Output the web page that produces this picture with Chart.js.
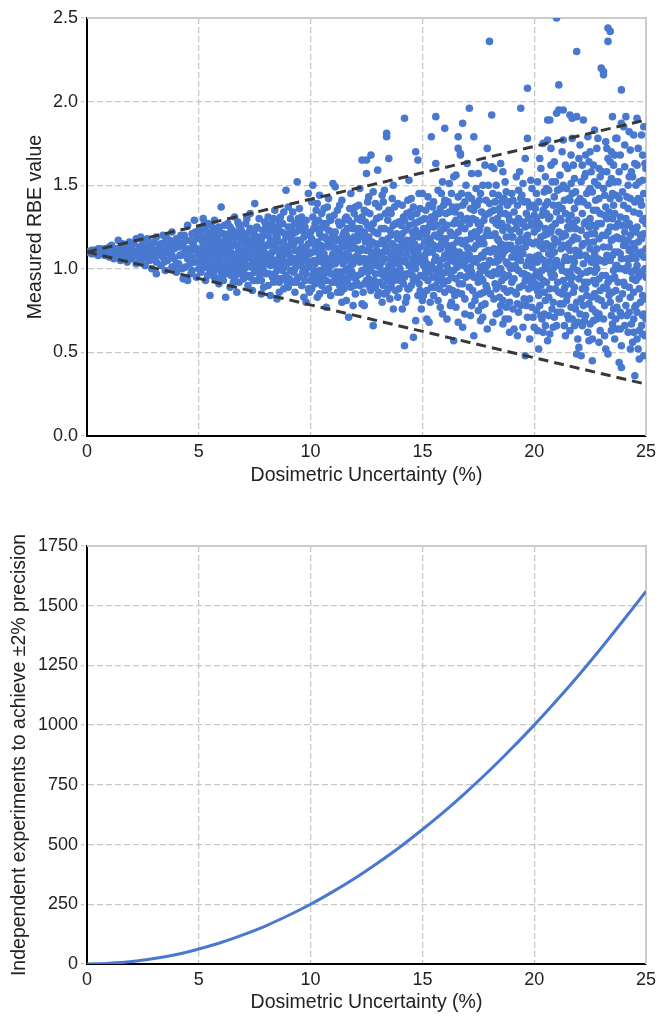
<!DOCTYPE html>
<html>
<head>
<meta charset="utf-8">
<script src="https://cdn.jsdelivr.net/npm/chart.js@4.4.0/dist/chart.umd.min.js"></script>
<style>
  html, body { margin: 0; padding: 0; background: #fff; }
  #wrap { position: relative; width: 661px; height: 1016px; }
  #topChart { position: absolute; left: 0; top: 0; }
  #bottomChart { position: absolute; left: 0; top: 490px; }
</style>
</head>
<body>
<div id="wrap">
  <canvas id="topChart" width="661" height="490"></canvas>
  <canvas id="bottomChart" width="661" height="526"></canvas>
</div>
<script>
// Measured RBE vs dosimetric uncertainty in bands of x
var rbe0to5 = [
  [0.0,1.10],[0.1,1.10],[0.2,1.11],[0.3,1.09],[0.3,1.11],[0.4,1.10],[0.5,1.12],[0.5,1.08],[0.6,1.10],[0.7,1.11],
  [0.7,1.09],[0.8,1.12],[0.8,1.08],[0.9,1.10],[1.0,1.13],[1.0,1.07],[0.2,1.09],[0.6,1.12],[0.9,1.09],
  [1.1,1.10],[1.1,1.14],[1.2,1.06],[1.3,1.12],[1.3,1.08],[1.4,1.17],[1.4,1.10],[1.5,1.05],[1.5,1.13],[1.6,1.09],
  [1.6,1.15],[1.7,1.07],[1.7,1.11],[1.8,1.04],[1.8,1.13],[1.9,1.10],[1.9,1.16],[2.0,1.06],[2.0,1.12],[1.2,1.12],
  [1.5,1.09],[1.8,1.08],
  [2.1,1.09],[2.1,1.15],[2.2,1.03],[2.2,1.18],[2.3,1.11],[2.3,1.07],[2.4,1.13],[2.4,1.05],[2.5,1.10],[2.5,1.16],
  [2.6,1.02],[2.6,1.12],[2.7,1.08],[2.7,1.18],[2.8,1.14],[2.8,1.05],[2.9,1.11],[2.9,1.00],[3.0,1.16],[3.0,1.08],
  [2.2,1.10],[2.5,1.06],[2.8,1.10],[2.4,1.19],[2.9,1.14],
  [3.1,1.19],[3.1,1.04],[3.1,0.97],[3.2,1.12],[3.2,1.09],[3.3,1.15],[3.3,1.02],[3.4,1.07],[3.4,1.20],[3.5,1.11],
  [3.5,0.99],[3.6,1.14],[3.6,1.05],[3.7,1.17],[3.7,1.09],[3.8,1.22],[3.8,1.01],[3.9,1.12],[3.9,1.06],[4.0,1.18],
  [4.0,0.98],[3.3,1.10],[3.6,1.10],[3.9,1.15],[3.5,1.16],[3.8,1.08],
  [4.1,1.13],[4.1,1.03],[4.2,1.20],[4.2,1.08],[4.3,0.94],[4.3,1.15],[4.4,1.01],[4.4,1.11],[4.5,1.26],[4.5,0.93],
  [4.5,1.06],[4.6,1.17],[4.6,1.10],[4.7,0.99],[4.7,1.21],[4.8,1.29],[4.8,1.04],[4.8,1.13],[4.9,0.95],[4.9,1.18],
  [5.0,1.08],[5.0,1.23],[5.0,1.00],[4.2,1.14],[4.4,1.17],[4.6,1.03],[4.9,1.11],[4.7,1.07],[4.3,1.09],[4.1,1.16],
  [0.15,1.10],[0.35,1.10],[0.45,1.11],[0.65,1.09],[0.85,1.11],[1.05,1.10],[1.25,1.09],[1.45,1.12],[1.65,1.11],[1.85,1.11],
  [2.05,1.09],[2.35,1.13],[2.65,1.08],[2.95,1.06],[3.25,1.13],[3.45,1.04],[3.75,1.12],[3.95,1.02],[4.15,1.08],[4.35,1.20],
  [4.55,1.12],[4.75,1.15],[4.95,1.04],[4.25,1.00],[4.65,0.97],[4.85,1.22],[3.55,1.19],[2.75,1.13],[1.95,1.13],[3.15,1.08]
];
var rbe5to10 = [
  [5.1,1.12],[5.1,0.98],[5.1,1.24],[5.2,1.30],[5.2,1.06],[5.2,1.15],[5.3,0.93],[5.3,1.10],[5.3,1.19],[5.4,1.02],
  [5.4,1.27],[5.4,1.13],[5.5,0.84],[5.5,1.08],[5.5,1.17],[5.5,0.97],[5.6,1.22],[5.6,1.04],[5.6,1.11],[5.7,0.95],
  [5.7,1.29],[5.7,1.15],[5.8,1.07],[5.8,1.00],[5.8,1.20],[5.9,1.12],[5.9,0.91],[5.9,1.25],[6.0,1.37],[6.0,1.05],
  [6.0,1.16],[6.0,0.98],[5.2,1.09],[5.4,1.07],[5.6,0.99],[5.8,1.14],[5.3,1.23],[5.7,1.03],[5.9,1.08],[5.5,1.13],
  [5.1,1.05],[5.6,1.18],[5.8,0.94],[5.4,0.96],
  [5.05,1.10],[5.15,1.17],[5.25,1.01],[5.35,1.14],[5.45,1.21],[5.55,1.03],[5.65,1.09],[5.75,1.24],[5.85,1.02],[5.95,1.15],
  [5.05,1.20],[5.15,1.03],[5.25,1.12],[5.35,1.05],[5.45,1.00],[5.55,1.26],[5.65,0.97],[5.75,1.11],[5.85,1.18],[5.95,1.01],
  [5.25,1.27],[5.45,1.10],[5.65,1.21],[5.85,1.06],[5.95,1.22],
  [6.1,1.09],[6.1,1.21],[6.1,0.93],[6.2,0.83],[6.2,1.13],[6.2,1.02],[6.3,1.27],[6.3,1.07],[6.3,0.97],[6.4,1.17],
  [6.4,1.11],[6.4,0.89],[6.5,1.04],[6.5,1.23],[6.5,1.14],[6.6,0.95],[6.6,1.08],[6.6,1.31],[6.7,0.86],[6.7,1.19],
  [6.7,1.01],[6.8,1.12],[6.8,1.26],[6.8,0.92],[6.9,1.06],[6.9,1.16],[6.9,0.99],[7.0,1.21],[7.0,1.03],[7.0,1.10],
  [6.2,1.19],[6.4,1.00],[6.6,1.15],[6.8,1.05],[6.3,1.12],[6.5,0.98],[6.7,1.09],[6.9,1.23],[6.1,1.04],[6.5,1.09],
  [6.8,0.97],[6.4,1.25],[6.6,1.03],[7.0,0.94],
  [6.05,1.12],[6.15,1.00],[6.25,1.16],[6.35,1.03],[6.45,1.20],[6.55,1.07],[6.65,1.22],[6.75,1.13],[6.85,1.01],[6.95,1.17],
  [6.05,0.95],[6.15,1.26],[6.25,1.09],[6.35,1.21],[6.45,0.96],[6.55,1.17],[6.65,1.00],[6.75,1.04],[6.85,1.20],[6.95,1.07],
  [6.15,1.14],[6.35,1.10],[6.55,0.92],[6.75,1.28],[6.95,0.98],
  [7.1,1.14],[7.1,0.96],[7.1,1.27],[7.2,1.07],[7.2,0.90],[7.2,1.18],[7.3,1.02],[7.3,1.33],[7.3,1.11],[7.4,0.87],
  [7.4,1.22],[7.4,1.05],[7.5,1.39],[7.5,1.13],[7.5,0.98],[7.6,1.08],[7.6,1.25],[7.6,0.93],[7.7,1.16],[7.7,1.01],
  [7.7,1.30],[7.8,0.85],[7.8,1.10],[7.8,0.93],[7.9,1.20],[7.9,1.04],[7.9,0.89],[8.0,1.14],[8.0,0.97],[8.0,1.26],
  [7.2,1.12],[7.4,1.15],[7.6,1.02],[7.8,1.18],[7.3,0.95],[7.5,1.06],[7.7,1.09],[7.9,1.11],[7.1,1.06],[7.5,1.20],
  [7.7,0.94],[7.3,1.24],[7.6,1.13],[7.9,0.99],
  [7.05,1.19],[7.15,1.02],[7.25,1.22],[7.35,1.08],[7.45,1.17],[7.55,1.01],[7.65,1.19],[7.75,1.06],[7.85,1.23],[7.95,1.14],
  [7.05,1.00],[7.15,1.11],[7.25,0.96],[7.35,1.16],[7.45,0.93],[7.55,1.24],[7.65,1.04],[7.75,1.13],[7.85,1.02],[7.95,1.07],
  [7.15,1.30],[7.35,1.01],[7.55,1.12],[7.75,0.97],[7.95,1.28],
  [8.1,1.08],[8.1,1.31],[8.1,0.90],[8.2,0.84],[8.2,1.17],[8.2,1.02],[8.3,1.23],[8.3,1.10],[8.3,0.95],[8.4,1.05],
  [8.4,1.35],[8.4,1.14],[8.5,0.82],[8.5,1.19],[8.5,0.99],[8.6,1.28],[8.6,1.07],[8.6,0.92],[8.7,1.12],[8.7,1.02],
  [8.7,1.22],[8.8,0.88],[8.8,1.16],[8.8,1.34],[8.9,1.47],[8.9,1.04],[8.9,0.96],[9.0,1.10],[9.0,1.25],[9.0,0.89],
  [8.2,1.09],[8.4,0.97],[8.6,1.16],[8.8,1.01],[8.3,1.03],[8.5,1.11],[8.7,0.94],[8.9,1.19],[9.0,1.37],[8.1,1.20],
  [8.6,0.86],[8.4,1.25],
  [8.05,1.03],[8.15,1.14],[8.25,1.27],[8.35,1.16],[8.45,1.02],[8.55,1.24],[8.65,1.11],[8.75,1.06],[8.85,1.21],[8.95,1.13],
  [8.05,1.24],[8.15,0.97],[8.25,1.06],[8.35,0.92],[8.45,1.20],[8.55,1.05],[8.65,1.31],[8.75,0.99],[8.85,1.09],[8.95,0.92],
  [8.15,1.06],[8.35,1.30],[8.55,0.94],[8.75,1.27],[8.95,1.03],
  [9.1,1.14],[9.1,0.99],[9.1,1.30],[9.2,0.92],[9.2,1.21],[9.2,1.06],[9.3,1.11],[9.3,0.86],[9.3,1.27],[9.4,1.52],
  [9.4,1.03],[9.4,1.17],[9.5,0.95],[9.5,1.09],[9.5,1.36],[9.6,1.23],[9.6,0.90],[9.6,1.13],[9.7,1.00],[9.7,1.19],
  [9.7,0.83],[9.8,1.07],[9.8,1.29],[9.8,0.97],[9.9,1.45],[9.9,1.15],[9.9,0.88],[10.0,1.04],[10.0,1.22],[10.0,0.93],
  [9.2,1.34],[9.4,0.94],[9.6,1.05],[9.8,1.12],[9.3,1.00],[9.5,1.24],[9.7,1.08],[9.9,1.01],[9.1,1.07],[9.6,1.31],
  [9.8,0.80],[9.4,1.11],
  [9.05,1.21],[9.15,1.04],[9.25,1.15],[9.35,1.22],[9.45,1.06],[9.55,1.17],[9.65,0.98],[9.75,1.25],[9.85,1.04],[9.95,1.20],
  [9.05,0.94],[9.15,1.25],[9.25,0.98],[9.35,1.06],[9.45,1.30],[9.55,1.02],[9.65,1.13],[9.75,0.93],[9.85,1.21],[9.95,1.09],
  [9.15,1.17],[9.35,0.92],[9.55,1.28],[9.75,1.10],[9.95,0.86]
];
var rbe10to15 = [
  [10.1,1.50],[10.1,1.10],[10.1,0.96],[10.2,1.27],[10.2,1.03],[10.3,0.83],[10.3,1.16],[10.3,1.39],[10.4,1.08],[10.4,0.85],
  [10.4,1.21],[10.5,0.90],[10.5,1.12],[10.5,1.33],[10.6,1.00],[10.6,1.25],[10.6,0.94],[10.7,0.77],[10.7,1.18],[10.7,1.06],
  [10.8,1.42],[10.8,1.13],[10.8,0.88],[10.9,1.02],[10.9,1.29],[10.9,0.97],[11.0,1.51],[11.0,1.09],[11.0,1.20],[10.2,1.14],
  [10.4,0.99],[10.6,1.09],[10.8,1.23],[10.3,1.05],[10.5,1.19],[10.7,0.93],[10.9,1.15],[10.1,1.31],[10.6,1.36],[10.8,1.00],
  [10.4,1.44],[10.2,0.91],[10.9,0.84],[10.5,1.04],[10.7,1.27],
  [10.05,1.18],[10.15,1.05],[10.25,1.35],[10.35,0.96],[10.45,1.14],[10.55,1.27],[10.65,1.03],[10.75,1.14],[10.85,1.31],[10.95,1.07],
  [10.05,0.88],[10.15,1.24],[10.25,1.12],[10.35,1.29],[10.45,0.94],[10.55,1.08],[10.65,1.19],[10.75,0.98],[10.85,1.05],[10.95,1.22],
  [10.15,0.99],[10.35,1.10],[10.55,0.97],[10.75,1.37],[10.95,0.92],[10.25,0.93],[10.45,1.24],[10.65,0.87],[10.85,1.17],[10.05,1.40],
  [11.1,1.49],[11.1,1.03],[11.1,0.92],[11.2,1.17],[11.2,1.35],[11.2,0.86],[11.3,1.10],[11.3,1.26],[11.3,0.98],[11.4,0.80],
  [11.4,1.14],[11.4,1.41],[11.5,1.05],[11.5,1.22],[11.5,0.94],[11.6,0.81],[11.6,1.31],[11.6,1.09],[11.7,0.71],[11.7,1.18],
  [11.7,1.00],[11.8,1.45],[11.8,1.12],[11.8,0.89],[11.9,1.24],[11.9,1.03],[11.9,0.95],[12.0,1.37],[12.0,1.07],[12.0,0.85],
  [11.2,1.05],[11.4,0.97],[11.6,1.20],[11.8,1.02],[11.3,1.38],[11.5,1.13],[11.7,1.29],[11.9,1.15],[11.1,1.22],[11.5,0.88],
  [11.7,1.08],[11.3,0.90],[11.9,0.78],[11.6,0.99],[11.4,1.27],
  [11.05,1.13],[11.15,0.98],[11.25,1.28],[11.35,1.07],[11.45,1.20],[11.55,0.99],[11.65,1.15],[11.75,1.36],[11.85,1.06],[11.95,1.19],
  [11.05,1.32],[11.15,1.18],[11.25,0.94],[11.35,1.17],[11.45,1.03],[11.55,1.30],[11.65,0.92],[11.75,1.05],[11.85,1.27],[11.95,0.90],
  [11.15,1.09],[11.35,0.86],[11.55,1.16],[11.75,0.96],[11.95,1.33],[11.25,1.12],[11.45,0.91],[11.65,1.24],[11.85,0.98],[11.05,0.96],
  [12.1,1.17],[12.1,0.96],[12.1,1.30],[12.2,1.04],[12.2,1.48],[12.2,0.90],[12.3,1.65],[12.3,0.79],[12.3,1.12],[12.4,1.22],
  [12.4,0.78],[12.4,1.06],[12.5,1.57],[12.5,1.65],[12.5,0.93],[12.5,1.34],[12.6,1.01],[12.6,1.19],[12.6,1.43],[12.7,1.68],
  [12.7,0.87],[12.7,1.10],[12.8,0.66],[12.8,1.27],[12.8,1.04],[12.9,1.15],[12.9,0.97],[12.9,1.39],[13.0,1.59],[13.0,1.08],
  [13.0,0.84],[12.2,1.24],[12.4,1.35],[12.6,0.94],[12.8,1.15],[12.3,0.99],[12.5,1.11],[12.7,1.24],[12.9,0.89],[12.1,1.08],
  [12.6,1.06],[12.8,1.46],[12.4,0.91],[13.0,1.21],[12.7,0.99],[12.3,1.31],[12.5,1.02],
  [12.05,1.12],[12.15,1.38],[12.25,0.97],[12.35,1.19],[12.45,1.04],[12.55,1.26],[12.65,0.89],[12.75,1.16],[12.85,1.08],[12.95,1.30],
  [12.05,0.92],[12.15,1.05],[12.25,1.29],[12.35,1.06],[12.45,1.16],[12.55,0.98],[12.65,1.33],[12.75,1.03],[12.85,0.93],[12.95,1.11],
  [12.15,1.21],[12.35,0.86],[12.55,1.40],[12.75,0.91],[12.95,1.02],[12.25,1.11],[12.45,1.28],[12.65,1.14],[12.85,1.22],[12.05,1.24],
  [13.1,1.31],[13.1,1.01],[13.1,0.92],[13.2,1.17],[13.2,0.80],[13.2,1.44],[13.3,1.06],[13.3,1.24],[13.3,0.95],[13.4,1.81],
  [13.4,1.79],[13.4,1.12],[13.4,0.86],[13.5,1.66],[13.5,1.35],[13.5,1.02],[13.6,0.90],[13.6,1.20],[13.6,1.08],[13.7,1.50],
  [13.7,0.76],[13.7,1.14],[13.8,1.27],[13.8,0.98],[13.8,1.05],[13.9,0.83],[13.9,1.39],[13.9,1.18],[14.0,1.00],[14.0,1.28],
  [14.0,0.93],[13.2,1.04],[13.4,0.99],[13.6,1.33],[13.8,1.13],[13.3,1.47],[13.5,0.88],[13.7,1.03],[13.9,0.95],[13.1,1.15],
  [13.5,1.10],[13.7,1.26],[13.9,1.07],[13.3,0.85],[13.6,0.96],[14.0,1.13],[13.8,0.87],
  [13.05,1.04],[13.15,1.24],[13.25,0.90],[13.35,1.14],[13.45,1.29],[13.55,1.06],[13.65,1.15],[13.75,0.93],[13.85,1.21],[13.95,1.03],
  [13.05,1.37],[13.15,0.97],[13.25,1.10],[13.35,1.33],[13.45,0.93],[13.55,1.23],[13.65,1.00],[13.75,1.37],[13.85,1.08],[13.95,1.28],
  [13.15,1.09],[13.35,0.98],[13.55,0.82],[13.75,1.11],[13.95,0.88],[13.25,1.40],[13.45,1.18],[13.65,1.42],[13.85,0.97],[13.05,0.86],
  [14.1,0.76],[14.1,1.21],[14.1,1.05],[14.2,0.54],[14.2,1.90],[14.2,1.14],[14.3,0.97],[14.3,1.33],[14.3,1.08],[14.4,1.53],
  [14.4,0.88],[14.4,1.26],[14.5,1.01],[14.5,1.17],[14.5,1.42],[14.6,0.59],[14.6,1.10],[14.6,0.93],[14.7,0.69],[14.7,1.70],
  [14.7,1.23],[14.8,1.65],[14.8,1.04],[14.8,0.84],[14.9,1.36],[14.9,1.13],[14.9,0.96],[15.0,1.45],[15.0,1.07],[15.0,0.81],
  [14.2,1.29],[14.4,1.02],[14.6,1.19],[14.8,1.28],[14.3,0.83],[14.5,0.90],[14.7,1.00],[14.9,1.21],[14.1,1.38],[14.5,1.31],
  [14.7,1.12],[14.3,1.17],[14.9,0.87],[14.6,1.37],[14.2,0.95],[14.8,1.10],[14.0,1.09],
  [14.05,1.17],[14.15,0.91],[14.25,1.23],[14.35,1.12],[14.45,1.34],[14.55,1.06],[14.65,1.27],[14.75,0.94],[14.85,1.19],[14.95,1.04],
  [14.05,0.97],[14.15,1.31],[14.25,1.04],[14.35,0.88],[14.45,1.13],[14.55,0.96],[14.65,1.03],[14.75,1.33],[14.85,0.91],[14.95,1.29],
  [14.15,1.12],[14.35,1.41],[14.55,1.22],[14.75,1.08],[14.95,0.76],[14.25,0.80],[14.45,0.97],[14.65,1.15],[14.85,1.45],[14.05,1.26]
];
var rbe15to20 = [
  [15.1,1.16],[15.1,0.95],[15.1,1.30],[15.2,0.70],[15.2,1.03],[15.2,1.22],[15.3,0.68],[15.3,1.38],[15.3,1.10],[15.4,1.79],
  [15.4,0.89],[15.4,1.15],[15.5,1.25],[15.5,1.00],[15.5,0.84],[15.6,1.91],[15.6,1.63],[15.6,1.07],[15.6,1.33],[15.7,0.93],
  [15.7,1.19],[15.7,1.47],[15.8,0.77],[15.8,1.12],[15.8,1.02],[15.9,0.73],[15.9,1.28],[15.9,0.97],[16.0,1.84],[16.0,1.41],
  [16.0,1.08],[15.2,1.12],[15.4,1.02],[15.6,0.90],[15.8,1.36],[15.3,0.98],[15.5,1.40],[15.7,1.05],[15.9,1.18],[15.1,1.06],
  [15.5,1.14],[15.7,0.81],[15.9,1.52],[15.3,1.25],[16.0,0.86],[15.4,1.31],[15.8,1.22],[15.2,0.87],[15.6,1.20],
  [15.05,1.24],[15.15,1.09],[15.25,0.93],[15.35,1.18],[15.45,1.37],[15.55,1.05],[15.65,1.26],[15.75,0.88],[15.85,1.15],[15.95,1.06],
  [15.05,0.84],[15.15,1.35],[15.25,1.16],[15.35,1.02],[15.45,0.95],[15.55,1.30],[15.65,0.97],[15.75,1.12],[15.85,1.45],[15.95,0.91],
  [15.15,0.99],[15.35,0.80],[15.55,1.20],[15.75,1.33],[15.95,1.24],[15.25,1.43],[15.45,1.10],[15.65,1.13],[15.85,0.94],[15.05,1.02],
  [15.35,1.27],[15.55,0.89],[15.75,1.00],[15.95,1.38],[15.15,1.20],
  [16.1,0.70],[16.1,1.14],[16.1,1.26],[16.2,0.99],[16.2,1.34],[16.2,0.88],[16.3,1.06],[16.3,1.20],[16.3,1.45],[16.4,0.57],
  [16.4,1.55],[16.4,1.11],[16.5,0.94],[16.5,1.56],[16.5,1.29],[16.6,1.79],[16.6,1.72],[16.6,0.68],[16.6,1.03],[16.7,1.69],
  [16.7,1.68],[16.7,1.17],[16.8,1.87],[16.8,0.65],[16.8,1.38],[16.8,0.91],[16.9,1.08],[16.9,1.24],[16.9,0.82],[17.0,1.63],
  [17.0,1.00],[17.0,1.13],[16.2,1.09],[16.4,1.27],[16.6,1.22],[16.8,1.05],[16.3,0.80],[16.5,1.08],[16.7,0.96],[16.9,1.40],
  [16.1,1.02],[16.5,0.77],[16.7,1.32],[16.3,0.95],[16.9,0.73],[16.4,0.99],[16.6,1.43],[17.0,1.30],[16.2,1.51],[16.8,1.15],
  [16.05,1.18],[16.15,0.93],[16.25,1.22],[16.35,1.37],[16.45,1.04],[16.55,1.16],[16.65,0.91],[16.75,1.25],[16.85,1.02],[16.95,1.17],
  [16.05,0.98],[16.15,1.40],[16.25,1.05],[16.35,0.87],[16.45,1.20],[16.55,1.37],[16.65,1.10],[16.75,0.85],[16.85,1.29],[16.95,0.95],
  [16.15,1.11],[16.35,1.14],[16.55,0.86],[16.75,1.06],[16.95,1.50],[16.25,0.78],[16.45,1.34],[16.65,1.27],[16.85,1.08],[16.05,1.33],
  [16.35,0.99],[16.55,1.01],[16.75,1.45],[16.95,1.05],[16.45,0.84],
  [17.1,1.96],[17.1,1.08],[17.1,0.89],[17.2,1.57],[17.2,1.21],[17.2,0.98],[17.3,0.60],[17.3,1.79],[17.3,1.35],[17.4,1.04],
  [17.4,1.14],[17.4,0.84],[17.5,1.57],[17.5,0.75],[17.5,1.27],[17.6,0.69],[17.6,1.01],[17.6,1.45],[17.7,0.71],[17.7,1.18],
  [17.7,0.93],[17.8,1.32],[17.8,1.10],[17.8,0.79],[17.9,0.64],[17.9,1.72],[17.9,1.23],[18.0,2.36],[18.0,1.05],[18.0,1.39],
  [17.2,1.42],[17.4,1.29],[17.6,1.15],[17.8,0.99],[17.3,0.95],[17.5,1.06],[17.7,1.50],[17.9,0.88],[17.1,1.27],[17.5,0.92],
  [17.7,1.07],[17.3,1.12],[17.9,1.02],[17.6,0.85],[18.0,1.20],[17.4,1.48],[17.8,1.62],[17.2,0.78],[17.6,1.26],
  [17.05,1.12],[17.15,1.36],[17.25,1.05],[17.35,1.22],[17.45,0.95],[17.55,1.17],[17.65,1.34],[17.75,1.02],[17.85,1.20],[17.95,1.11],
  [17.05,0.96],[17.15,1.18],[17.25,0.87],[17.35,1.06],[17.45,1.38],[17.55,0.97],[17.65,1.08],[17.75,1.29],[17.85,0.90],[17.95,1.33],
  [17.15,1.01],[17.35,0.81],[17.55,1.41],[17.75,0.86],[17.95,0.97],[17.25,1.30],[17.45,1.19],[17.65,0.94],[17.85,1.41],[17.05,1.44],
  [17.35,1.39],[17.55,1.23],[17.75,1.15],[17.95,1.50],[17.45,1.06],
  [18.1,1.92],[18.1,1.61],[18.1,0.96],[18.2,1.60],[18.2,1.12],[18.2,0.82],[18.3,0.73],[18.3,1.27],[18.3,1.04],[18.4,1.44],
  [18.4,0.90],[18.4,1.17],[18.5,1.63],[18.5,1.00],[18.5,1.33],[18.6,0.81],[18.6,1.09],[18.6,1.23],[18.7,0.70],[18.7,1.52],
  [18.7,0.95],[18.8,1.14],[18.8,1.38],[18.8,0.86],[18.9,1.02],[18.9,1.29],[18.9,0.62],[19.0,1.19],[19.0,1.45],[19.0,0.92],
  [18.2,1.35],[18.4,1.05],[18.6,0.97],[18.8,1.25],[18.3,1.50],[18.5,0.78],[18.7,1.11],[18.9,1.40],[18.1,1.20],[18.5,1.15],
  [18.7,1.33],[18.3,0.88],[18.9,0.80],[18.6,1.58],[18.2,0.98],[18.8,1.03],[18.4,1.26],[19.0,1.07],[18.6,0.67],
  [18.05,1.10],[18.15,1.29],[18.25,0.91],[18.35,1.18],[18.45,1.36],[18.55,1.07],[18.65,1.42],[18.75,1.19],[18.85,0.96],[18.95,1.14],
  [18.05,0.85],[18.15,1.04],[18.25,1.21],[18.35,0.97],[18.45,1.12],[18.55,1.27],[18.65,0.88],[18.75,1.04],[18.85,1.32],[18.95,0.87],
  [18.15,1.45],[18.35,1.08],[18.55,0.93],[18.75,1.46],[18.95,1.23],[18.25,1.40],[18.45,0.83],[18.65,1.14],[18.85,1.12],[18.05,1.34],
  [18.35,1.30],[18.55,1.40],[18.75,0.77],[18.95,1.00],[18.45,1.00],
  [19.1,0.64],[19.1,1.10],[19.1,1.34],[19.2,0.85],[19.2,1.24],[19.2,1.55],[19.3,0.99],[19.3,1.16],[19.3,0.74],[19.4,1.96],
  [19.4,1.05],[19.4,1.42],[19.5,0.90],[19.5,1.28],[19.5,0.65],[19.6,0.48],[19.6,1.13],[19.6,1.66],[19.7,2.08],[19.7,1.78],
  [19.7,0.96],[19.7,1.20],[19.8,0.82],[19.8,1.37],[19.8,1.07],[19.9,1.48],[19.9,0.77],[19.9,1.01],[20.0,0.65],[20.0,1.22],
  [20.0,1.32],[19.2,1.00],[19.4,0.78],[19.6,0.93],[19.8,1.16],[19.3,1.47],[19.5,1.09],[19.7,0.71],[19.9,1.27],[19.1,0.94],
  [19.5,1.51],[19.7,1.40],[19.3,1.30],[19.9,0.89],[19.6,1.25],[19.2,1.12],[19.8,0.58],[19.4,1.18],[20.0,1.04],
  [19.05,1.19],[19.15,1.02],[19.25,1.38],[19.35,1.09],[19.45,1.27],[19.55,0.97],[19.65,1.33],[19.75,1.05],[19.85,1.26],[19.95,0.95],
  [19.05,1.41],[19.15,0.86],[19.25,1.06],[19.35,0.89],[19.45,1.12],[19.55,1.40],[19.65,1.02],[19.75,1.30],[19.85,0.92],[19.95,1.15],
  [19.15,1.28],[19.35,1.22],[19.55,0.82],[19.75,0.88],[19.95,1.38],[19.25,0.79],[19.45,0.97],[19.65,1.19],[19.85,1.53],[19.05,0.76],
  [19.35,1.58],[19.55,1.17],[19.75,1.16],[19.95,1.06],[19.45,1.44],
  [17.15,0.72],[17.65,0.78],[18.15,0.68],[18.45,0.74],[18.85,0.70],[19.25,0.60],[19.65,0.78],[19.95,0.71]
];
var rbe20to25 = [
  [20.1,0.98],[20.1,1.45],[20.1,1.16],[20.2,0.52],[20.2,1.27],[20.2,0.84],[20.3,1.06],[20.3,1.60],[20.3,0.72],[20.4,1.75],
  [20.4,1.12],[20.4,0.93],[20.5,1.38],[20.5,1.02],[20.5,0.66],[20.6,1.89],[20.6,1.77],[20.6,0.57],[20.6,1.21],[20.7,1.89],
  [20.7,0.88],[20.7,1.31],[20.8,1.09],[20.8,1.52],[20.8,0.76],[20.9,1.18],[20.9,0.96],[20.9,1.43],[21.0,2.50],[21.0,1.93],
  [21.0,0.66],[21.0,1.05],[20.2,1.08],[20.4,1.35],[20.6,1.00],[20.8,1.25],[20.3,1.19],[20.5,0.81],[20.7,1.13],[20.9,0.71],
  [20.1,0.75],[20.5,1.55],[20.7,1.04],[20.3,0.90],[20.9,1.64],[20.6,1.40],[20.2,1.40],[20.8,0.95],[20.4,0.62],[21.0,1.34],
  [20.5,1.24],[20.7,0.61],[20.1,1.30],[20.9,1.10],
  [20.05,1.07],[20.15,1.24],[20.25,0.95],[20.35,1.32],[20.45,1.05],[20.55,1.15],[20.65,0.83],[20.75,1.22],[20.85,1.38],[20.95,0.88],
  [20.05,1.36],[20.15,0.87],[20.25,1.14],[20.35,0.99],[20.45,1.46],[20.55,0.92],[20.65,1.30],[20.75,0.97],[20.85,1.14],[20.95,1.27],
  [20.15,1.52],[20.35,1.15],[20.55,1.33],[20.75,1.62],[20.95,1.02],[20.25,0.78],[20.45,0.86],[20.65,1.09],[20.85,0.80],[20.05,0.91],
  [20.35,0.70],[20.55,1.48],[20.75,1.08],[20.95,1.52],[20.25,1.26],[20.45,1.20],[20.65,1.47],[20.85,1.00],[20.15,1.04],[20.65,0.72],
  [21.1,2.10],[21.1,1.95],[21.1,1.22],[21.1,0.86],[21.2,1.02],[21.2,1.48],[21.2,0.74],[21.3,1.95],[21.3,1.77],[21.3,1.14],
  [21.3,0.93],[21.4,1.33],[21.4,0.60],[21.4,1.07],[21.5,1.60],[21.5,0.84],[21.5,1.25],[21.6,1.92],[21.6,0.98],[21.6,1.41],
  [21.7,1.90],[21.7,1.78],[21.7,0.70],[21.7,1.17],[21.8,1.04],[21.8,1.54],[21.8,0.89],[21.9,2.30],[21.9,1.91],[21.9,0.49],
  [21.9,1.29],[22.0,0.53],[22.0,1.10],[22.0,1.66],[21.2,1.29],[21.4,0.90],[21.6,1.11],[21.8,1.36],[21.3,1.50],[21.5,1.05],
  [21.7,0.95],[21.9,1.08],[21.1,1.38],[21.5,0.72],[21.7,1.45],[21.3,0.79],[21.9,0.80],[21.6,1.24],[21.2,1.12],[21.8,0.66],
  [21.4,1.62],[22.0,0.94],[21.6,0.63],[21.4,1.20],[21.8,1.19],
  [21.05,1.16],[21.15,1.02],[21.25,1.36],[21.35,0.88],[21.45,1.13],[21.55,1.42],[21.65,0.91],[21.75,1.27],[21.85,1.11],[21.95,1.40],
  [21.05,0.92],[21.15,1.30],[21.25,0.99],[21.35,1.21],[21.45,0.81],[21.55,1.15],[21.65,1.32],[21.75,1.01],[21.85,0.76],[21.95,1.18],
  [21.15,1.56],[21.35,1.41],[21.55,0.95],[21.75,0.86],[21.95,0.99],[21.25,1.19],[21.45,1.48],[21.65,1.06],[21.85,1.46],[21.05,1.47],
  [21.35,1.05],[21.55,0.70],[21.75,1.62],[21.95,0.68],[21.25,0.85],[21.45,0.98],[21.65,1.51],[21.85,1.24],[21.15,0.79],[21.55,1.29],
  [22.1,0.48],[22.1,1.23],[22.1,0.97],[22.2,1.89],[22.2,1.40],[22.2,0.78],[22.3,1.08],[22.3,1.57],[22.3,0.88],[22.4,1.79],
  [22.4,1.16],[22.4,0.62],[22.5,1.30],[22.5,0.99],[22.5,1.70],[22.6,0.45],[22.6,1.05],[22.6,1.46],[22.7,1.83],[22.7,0.85],
  [22.7,1.21],[22.8,1.35],[22.8,0.70],[22.8,1.12],[22.9,0.56],[22.9,1.60],[22.9,0.94],[23.0,2.20],[23.0,1.27],[23.0,0.81],
  [22.2,1.15],[22.4,1.38],[22.6,0.76],[22.8,1.00],[22.3,1.28],[22.5,0.67],[22.7,1.52],[22.9,1.18],[22.1,1.52],[22.5,1.12],
  [22.7,0.98],[22.3,0.72],[22.9,1.42],[22.6,1.26],[22.2,1.03],[22.8,1.72],[22.4,0.92],[23.0,1.05],[22.6,0.58],[22.1,0.82],
  [22.5,1.48],[22.9,0.73],[22.3,1.68],[22.7,1.09],[22.4,1.06],
  [22.05,1.08],[22.15,1.33],[22.25,0.92],[22.35,1.20],[22.45,1.47],[22.55,1.04],[22.65,1.35],[22.75,0.91],[22.85,1.27],[22.95,1.05],
  [22.05,1.42],[22.15,0.88],[22.25,1.27],[22.35,0.98],[22.45,1.25],[22.55,0.83],[22.65,1.16],[22.75,1.41],[22.85,0.82],[22.95,1.33],
  [22.15,1.14],[22.35,1.45],[22.55,1.58],[22.75,1.03],[22.95,0.87],[22.25,0.69],[22.45,0.79],[22.65,0.93],[22.85,1.50],[22.05,0.73],
  [22.35,0.84],[22.55,1.21],[22.75,1.25],[22.95,1.55],[22.25,1.55],[22.45,1.06],[22.65,0.69],[22.85,1.06],[22.15,1.62],[22.65,1.62],
  [23.1,2.18],[23.1,2.16],[23.1,1.13],[23.1,0.70],[23.2,0.52],[23.2,1.37],[23.2,0.96],[23.3,2.44],[23.3,2.36],[23.3,0.49],
  [23.3,1.22],[23.4,2.42],[23.4,1.05],[23.4,1.64],[23.5,1.91],[23.5,0.86],[23.5,1.30],[23.6,0.58],[23.6,1.10],[23.6,1.52],
  [23.7,0.77],[23.7,1.19],[23.7,1.78],[23.8,0.44],[23.8,1.00],[23.8,1.42],[23.9,2.07],[23.9,1.87],[23.9,0.54],[23.9,0.41],
  [23.9,1.26],[24.0,1.85],[24.0,0.92],[24.0,1.14],[23.2,1.20],[23.4,0.80],[23.6,1.33],[23.8,1.58],[23.3,0.92],[23.5,1.45],
  [23.7,1.02],[23.9,0.72],[23.1,1.48],[23.5,1.08],[23.7,0.64],[23.3,1.66],[23.9,1.06],[23.6,0.95],[23.2,1.76],[23.8,1.18],
  [23.4,1.25],[24.0,1.38],[23.6,1.68],[23.1,0.89],[23.5,0.67],[23.8,0.82],[23.4,1.42],
  [23.05,1.20],[23.15,1.04],[23.25,1.30],[23.35,0.84],[23.45,1.17],[23.55,1.38],[23.65,0.87],[23.75,1.27],[23.85,1.09],[23.95,1.46],
  [23.05,0.96],[23.15,1.32],[23.25,1.08],[23.35,1.51],[23.45,0.94],[23.55,1.18],[23.65,1.44],[23.75,0.92],[23.85,1.31],[23.95,0.85],
  [23.15,0.78],[23.35,1.13],[23.55,0.76],[23.75,1.52],[23.95,1.18],[23.25,1.58],[23.45,0.72],[23.65,1.02],[23.85,0.64],[23.05,1.58],
  [23.35,1.34],[23.55,0.99],[23.75,1.10],[23.95,1.00],[23.25,0.88],[23.45,1.54],[23.65,1.25],[23.85,1.68],[23.15,1.44],[23.55,1.62],
  [24.1,1.91],[24.1,0.99],[24.1,1.30],[24.2,0.62],[24.2,1.17],[24.2,1.50],[24.3,0.83],[24.3,1.06],[24.3,1.71],[24.4,0.56],
  [24.4,1.24],[24.4,0.94],[24.5,0.36],[24.5,1.40],[24.5,1.12],[24.6,0.74],[24.6,1.62],[24.6,1.02],[24.7,0.46],[24.7,1.33],
  [24.7,0.88],[24.8,1.18],[24.8,1.80],[24.8,0.66],[24.9,0.48],[24.9,1.45],[24.9,1.07],[25.0,0.95],[25.0,1.60],[25.0,1.27],
  [24.2,1.36],[24.4,1.55],[24.6,1.25],[24.8,0.97],[24.3,1.20],[24.5,0.77],[24.7,1.09],[24.9,1.85],[24.1,0.78],[24.5,1.63],
  [24.7,1.52],[24.3,0.52],[24.9,0.73],[24.6,0.58],[24.2,1.02],[24.8,1.38],[24.4,1.08],[25.0,0.70],[24.6,1.90],[24.1,1.14],
  [24.5,0.99],[24.9,1.21],[24.3,1.42],[24.7,0.63],[24.8,1.10],[25.0,1.12],
  [24.05,1.22],[24.15,1.43],[24.25,0.89],[24.35,1.12],[24.45,1.34],[24.55,0.93],[24.65,1.16],[24.75,1.41],[24.85,0.84],[24.95,1.30],
  [24.05,0.90],[24.15,1.06],[24.25,1.27],[24.35,0.98],[24.45,0.70],[24.55,1.22],[24.65,0.95],[24.75,1.20],[24.85,1.53],[24.95,1.00],
  [24.15,0.72],[24.35,1.58],[24.55,1.50],[24.75,0.80],[24.95,1.63],[24.25,1.55],[24.45,1.15],[24.65,1.42],[24.85,1.29],[24.05,1.61],
  [24.35,0.67],[24.55,1.06],[24.75,0.98],[24.95,0.60],[24.25,1.11],[24.45,0.86],[24.65,1.72],[24.85,0.61],[24.15,1.26],[24.55,0.78],
  [20.15,0.63],[20.45,0.73],[20.85,0.65],[21.05,0.74],[21.35,0.66],[21.65,0.77],[21.95,0.58],[22.15,0.66],[22.45,0.57],[22.75,0.74],
  [22.95,0.63],[23.15,0.60],[23.45,0.63],[23.65,0.70],[23.85,0.74],[24.05,0.66],[24.25,0.74],[24.45,0.62],[24.65,0.52],[24.85,0.72],
  [24.95,0.82],[20.25,1.66],[20.75,1.72],[21.25,1.70],[21.65,1.68],[22.05,1.74],[22.45,1.64],[22.85,1.78],[23.25,1.72],[23.65,1.78],
  [24.05,1.74],[24.45,1.80],[24.85,1.68],[24.25,1.82],[23.45,1.70]
];

// dashed envelope lines
var boundX = [0, 25];
var upperBound = [1.10, 1.89];
var lowerBound = [1.10, 0.31];

// bottom panel: experiments needed vs uncertainty
var uncertainty = [0,1,2,3,4,5,6,7,8,9,10,11,12,13,14,15,16,17,18,19,20,21,22,23,24,25];
var experiments = [0,3,10,23,40,63,90,123,160,203,250,303,360,423,490,563,640,723,810,903,1000,1103,1210,1323,1440,1560];

var xTitle = 'Dosimetric Uncertainty (%)';
var blue = '#4878CF';
var fontFam = '"Liberation Sans", Arial, Helvetica, sans-serif';
var textCol = '#222222';

function toXY(xs, ys) {
    return xs.map(function (x, i) { return {x: x, y: ys[i]}; });
}
var rbePoints = rbe0to5.concat(rbe5to10, rbe10to15, rbe15to20, rbe20to25).map(function (p) {
    return {x: p[0], y: p[1]};
});

// light grey frame on top and right, like the original
var framePlugin = {
    id: 'frame',
    beforeDatasetsDraw: function (chart) {
        var a = chart.chartArea, ctx = chart.ctx;
        ctx.save();
        ctx.strokeStyle = '#cccccc';
        ctx.lineWidth = 2;
        ctx.beginPath();
        ctx.moveTo(a.left, a.top);
        ctx.lineTo(a.right, a.top);
        ctx.lineTo(a.right, a.bottom);
        ctx.stroke();
        ctx.restore();
    }
};

function axisOpts(min, max, step, title, titlePad, isY, fixedSize, fmt) {
    return {
        type: 'linear',
        min: min, max: max,
        border: {display: true, color: '#000000', width: 2, dash: [6, 3]},
        grid: {
            color: '#c8c8c8',
            lineWidth: 1.3,
            drawTicks: isY,
            tickLength: 6,
            tickColor: '#c8c8c8',
            tickBorderDash: [3, 2]
        },
        ticks: {
            stepSize: step,
            padding: isY ? 3 : 5,
            color: textCol,
            font: {family: fontFam, size: 18},
            maxRotation: 0,
            callback: fmt || function (v) { return v; }
        },
        title: {
            display: true,
            text: title,
            color: textCol,
            font: {family: fontFam, size: 19.5},
            padding: titlePad
        },
        afterFit: function (scale) {
            if (isY) scale.width = fixedSize; else scale.height = fixedSize;
        }
    };
}

new Chart(document.getElementById('topChart'), {
    type: 'scatter',
    data: {
        datasets: [
            {
                data: toXY(boundX, upperBound), showLine: true, order: 0,
                borderColor: '#383838', borderWidth: 3, borderDash: [10, 6],
                pointRadius: 0, fill: false
            },
            {
                data: toXY(boundX, lowerBound), showLine: true, order: 0,
                borderColor: '#383838', borderWidth: 3, borderDash: [10, 6],
                pointRadius: 0, fill: false
            },
            {
                data: rbePoints, order: 1, clip: 0,
                backgroundColor: blue, borderWidth: 0, pointRadius: 3.8
            }
        ]
    },
    options: {
        responsive: false,
        animation: false,
        layout: {padding: {top: 18, right: 13, left: 0, bottom: 0}},
        plugins: {legend: {display: false}, tooltip: {enabled: false}},
        scales: {
            x: axisOpts(0, 25, 5, xTitle, {top: 0, bottom: 2.8}, false, 54),
            y: axisOpts(0, 2.5, 0.5, 'Measured RBE value', {top: 23.8, bottom: 0}, true, 87,
                function (v) { return v.toFixed(1); })
        }
    },
    plugins: [framePlugin]
});

new Chart(document.getElementById('bottomChart'), {
    type: 'line',
    data: {
        datasets: [{
            data: toXY(uncertainty, experiments),
            borderColor: blue, borderWidth: 3,
            pointRadius: 0, fill: false,
            cubicInterpolationMode: 'monotone', clip: 0
        }]
    },
    options: {
        responsive: false,
        animation: false,
        layout: {padding: {top: 56, right: 13, left: 0, bottom: 0}},
        plugins: {legend: {display: false}, tooltip: {enabled: false}},
        scales: {
            x: axisOpts(0, 25, 5, xTitle, {top: 0, bottom: 1.3}, false, 52),
            y: axisOpts(0, 1750, 250, 'Independent experiments to achieve \u00b12% precision',
                {top: 8.3, bottom: 0}, true, 87)
        }
    },
    plugins: [framePlugin]
});
</script>
</body>
</html>
